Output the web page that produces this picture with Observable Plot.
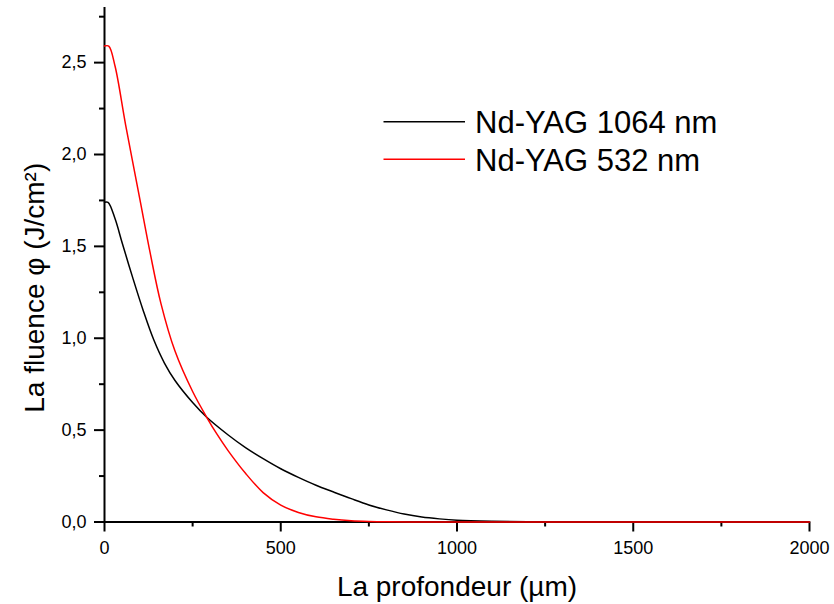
<!DOCTYPE html>
<html>
<head>
<meta charset="utf-8">
<script src="https://cdn.jsdelivr.net/npm/d3@7"></script>
<script src="https://cdn.jsdelivr.net/npm/@observablehq/plot@0.6"></script>
<style>
  html, body { margin: 0; padding: 0; background: white; }
</style>
</head>
<body>
<div id="chart"></div>
<script>
// Series data
const depth1064 = [0, 10, 30, 50, 80, 110, 140, 170, 200, 250, 290, 350, 400, 450, 500, 550, 600, 650, 700, 750, 800, 850, 900, 950, 1000, 1100, 1200, 1300, 1500, 2000];
const fluence1064 = [1.74, 1.74, 1.65, 1.52, 1.33, 1.15, 0.99, 0.865, 0.77, 0.65, 0.57, 0.475, 0.405, 0.345, 0.29, 0.243, 0.20, 0.163, 0.127, 0.093, 0.066, 0.043, 0.027, 0.017, 0.010, 0.004, 0.001, 0, 0, 0];

const depth532 = [0, 12, 30, 60, 100, 130, 160, 200, 250, 290, 320, 350, 400, 450, 500, 550, 600, 650, 700, 750, 800, 900, 1000, 1500, 2000];
const fluence532 = [2.59, 2.59, 2.48, 2.16, 1.76, 1.46, 1.19, 0.93, 0.71, 0.57, 0.475, 0.39, 0.265, 0.16, 0.092, 0.052, 0.028, 0.015, 0.007, 0.003, 0.001, 0, 0, 0, 0];

const seriesNames = ["Nd-YAG 1064 nm", "Nd-YAG 532 nm"];
const seriesColors = ["black", "red"];

const xMajorTicks = [0, 500, 1000, 1500, 2000];
const xMinorTicks = [250, 750, 1250, 1750];
const yMajorTicks = [0, 0.5, 1.0, 1.5, 2.0, 2.5];
const yMinorTicks = [0.25, 0.75, 1.25, 1.75, 2.25, 2.75];

const xTitle = "La profondeur (\u00B5m)";
const yTitle = "La fluence \u03C6 (J/cm\u00B2)";

const data1064 = depth1064.map((d, i) => ({depth: d, fluence: fluence1064[i]}));
const data532 = depth532.map((d, i) => ({depth: d, fluence: fluence532[i]}));

const commaFmt = d => d.toFixed(1).replace(".", ",");

const legend = (index, scales, values, dimensions, context) => {
  const g = d3.create("svg:g");
  seriesNames.forEach((name, i) => {
    const yLine = 121.7 + i * 37.6;
    g.append("line")
      .attr("x1", 383.5).attr("x2", 465)
      .attr("y1", yLine).attr("y2", yLine)
      .attr("stroke", seriesColors[i])
      .attr("stroke-width", 1.5);
    g.append("text")
      .attr("x", 475)
      .attr("y", yLine + 11.6)
      .attr("font-size", 31)
      .attr("text-anchor", "start")
      .attr("fill", "black")
      .text(name);
  });
  return g.node();
};

const chart = Plot.plot({
  width: 834,
  height: 604,
  marginLeft: 104,
  marginRight: 25,
  marginTop: 7,
  marginBottom: 82.5,
  x: {domain: [0, 2000]},
  y: {domain: [0, 2.8]},
  style: {fontFamily: "'Liberation Sans', Arial, sans-serif", fontSize: "18px", color: "black", background: "white"},
  marks: [
    Plot.axisX({ticks: xMajorTicks, tickSize: 10, tickPadding: 9, tickFormat: d => String(d), strokeWidth: 2, fontSize: 18, label: null}),
    Plot.axisX({ticks: xMinorTicks, tickSize: 5, tickFormat: () => "", strokeWidth: 2, label: null}),
    Plot.axisY({ticks: yMajorTicks, tickSize: 10, tickPadding: 8, tickFormat: commaFmt, strokeWidth: 2, fontSize: 18, label: null}),
    Plot.axisY({ticks: yMinorTicks, tickSize: 5, tickFormat: () => "", strokeWidth: 2, label: null}),
    Plot.ruleX([0], {strokeWidth: 2}),
    Plot.ruleY([0], {strokeWidth: 2}),
    Plot.line(data1064, {x: "depth", y: "fluence", stroke: seriesColors[0], strokeWidth: 1.5, curve: "catmull-rom"}),
    Plot.line(data532, {x: "depth", y: "fluence", stroke: seriesColors[1], strokeWidth: 1.5, curve: "catmull-rom"}),
    Plot.text([xTitle], {text: d => d, frameAnchor: "bottom", textAnchor: "middle", lineAnchor: "bottom", dy: 74, fontSize: 28}),
    Plot.text([yTitle], {text: d => d, frameAnchor: "left", textAnchor: "middle", rotate: -90, lineAnchor: "bottom", dx: -61, dy: 23, fontSize: 28}),
    legend
  ]
});
document.getElementById("chart").appendChild(chart);
</script>
</body>
</html>
